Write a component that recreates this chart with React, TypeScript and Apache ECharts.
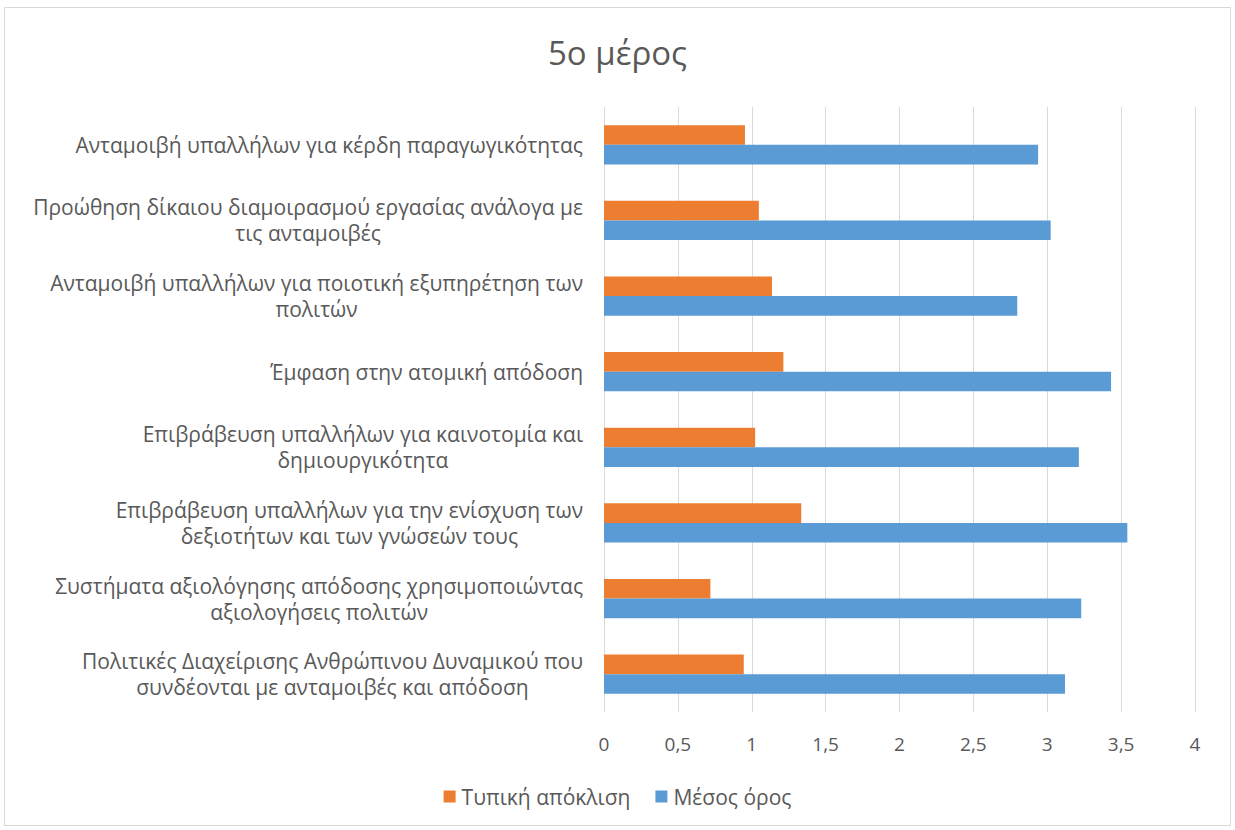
import React, { useEffect, useRef } from "react";
import * as echarts from "echarts";

const categories: string[] = [
  "Ανταμοιβή υπαλλήλων για κέρδη παραγωγικότητας",
  "Προώθηση δίκαιου διαμοιρασμού εργασίας ανάλογα με\nτις ανταμοιβές",
  "Ανταμοιβή υπαλλήλων για ποιοτική εξυπηρέτηση των\nπολιτών",
  "Έμφαση στην ατομική απόδοση",
  "Επιβράβευση υπαλλήλων για καινοτομία και\nδημιουργικότητα",
  "Επιβράβευση υπαλλήλων για την ενίσχυση των\nδεξιοτήτων και των γνώσεών τους",
  "Συστήματα αξιολόγησης απόδοσης χρησιμοποιώντας\nαξιολογήσεις πολιτών",
  "Πολιτικές Διαχείρισης Ανθρώπινου Δυναμικού που\nσυνδέονται με ανταμοιβές και απόδοση",
];

const stdDev: number[] = [0.954, 1.048, 1.137, 1.214, 1.023, 1.335, 0.72, 0.946];
const mean: number[] = [2.938, 3.023, 2.797, 3.432, 3.214, 3.542, 3.23, 3.12];

const seriesNames = ["Τυπική απόκλιση", "Μέσος όρος"];
const title = "5ο μέρος";

const FONT = "'Open Sans', 'Noto Sans', sans-serif";
const TEXT = "#595959";

export default function App() {
  const ref = useRef<HTMLDivElement>(null);
  useEffect(() => {
    document.body.style.margin = "0";
    const chart = echarts.init(ref.current!, null, { renderer: "svg" });
    chart.setOption({
      animation: false,
      backgroundColor: "#ffffff",
      textStyle: { fontFamily: FONT },
      title: {
        text: title,
        left: "center",
        top: 31,
        textStyle: { fontSize: 33, fontWeight: "normal", color: TEXT, fontFamily: FONT },
      },
      graphic: [
        {
          type: "rect",
          shape: { x: 4.5, y: 7.5, width: 1226, height: 818 },
          style: { fill: "none", stroke: "#d9d9d9", lineWidth: 1 },
          silent: true,
        },
      ],
      legend: {
        bottom: 18,
        left: "center",
        itemWidth: 12,
        itemHeight: 12,
        itemGap: 25,
        icon: "rect",
        textStyle: { fontSize: 21, color: TEXT, fontFamily: FONT, padding: [0, 0, 0, 1] },
        data: seriesNames,
      },
      grid: { left: 604, right: 40, top: 107, bottom: 118, containLabel: false },
      xAxis: {
        type: "value",
        min: 0,
        max: 4,
        interval: 0.5,
        axisLine: { show: false },
        axisTick: { show: false },
        splitLine: { show: true, lineStyle: { color: "#d9d9d9", width: 1 } },
        axisLabel: {
          fontSize: 19,
          color: TEXT,
          margin: 22,
          fontFamily: FONT,
          formatter: (v: number) => String(v).replace(".", ","),
        },
      },
      yAxis: {
        type: "category",
        inverse: true,
        data: categories,
        axisLine: { show: false },
        axisTick: { show: false },
        axisLabel: {
          margin: 21,
          align: "right",
          color: TEXT,
          fontSize: 21,
          fontFamily: FONT,
          lineHeight: 26,
          formatter: (v: string) =>
            v
              .split("\n")
              .map((l) => `{c|${l}}`)
              .join("\n"),
          rich: {
            c: { align: "center", fontSize: 21, color: TEXT, fontFamily: FONT, lineHeight: 26 },
          },
        },
      },
      series: [
        {
          name: seriesNames[0],
          type: "bar",
          data: stdDev,
          itemStyle: { color: "#ED7D31" },
          barGap: "0%",
          barCategoryGap: "48%",
        },
        {
          name: seriesNames[1],
          type: "bar",
          data: mean,
          itemStyle: { color: "#5B9BD5" },
          barGap: "0%",
          barCategoryGap: "48%",
        },
      ],
    });
    return () => chart.dispose();
  }, []);
  return (
    <div
      ref={ref}
      style={{ width: 1235, height: 830, position: "absolute", left: 0, top: 0 }}
    />
  );
}
